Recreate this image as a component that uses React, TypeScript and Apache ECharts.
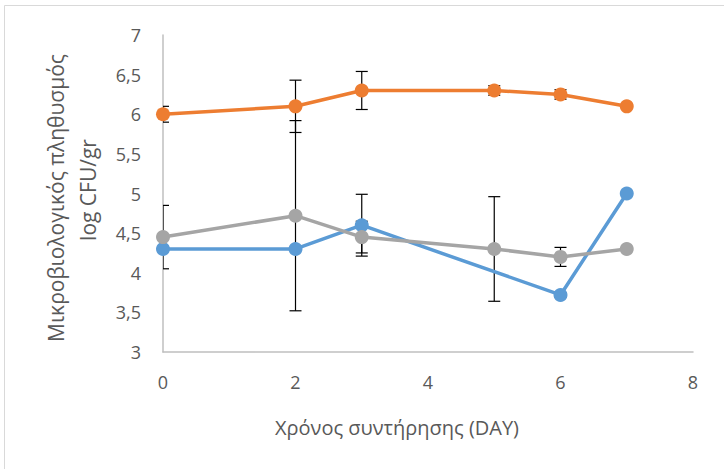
import React, { useEffect, useRef } from "react";
import * as echarts from "echarts";

const days = [0, 2, 3, 5, 6, 7];
const blueValues: (number | null)[] = [4.3, 4.3, 4.6, null, 3.72, 5.0];
const orangeValues: (number | null)[] = [6.0, 6.1, 6.3, 6.3, 6.25, 6.1];
const greyValues: (number | null)[] = [4.45, 4.72, 4.45, 4.3, 4.2, 4.3];
const blueErrors: (number | null)[] = [0, 0, 0.39, null, 0.03, 0];
const orangeErrors: (number | null)[] = [0.1, 0.33, 0.24, 0.06, 0.06, 0];
const greyErrors: (number | null)[] = [0.4, 1.2, 0.2, 0.66, 0.12, 0];
const xTicks = [0, 2, 4, 6, 8];
const yTicks = [3, 3.5, 4, 4.5, 5, 5.5, 6, 6.5, 7];

const xTitle = "Χρόνος συντήρησης (DAY)";
const yTitle1 = "Μικροβιολογικός πληθυσμός";
const yTitle2 = "log CFU/gr";

const FONT = "'Open Sans', 'Noto Sans', sans-serif";
const TEXT_COLOR = "#595959";

function pts(values: (number | null)[]) {
  return days.map((d, i) => [d, values[i]]).filter((p) => p[1] !== null);
}

function errData(values: (number | null)[], errs: (number | null)[]) {
  const out: number[][] = [];
  days.forEach((d, i) => {
    const v = values[i];
    const e = errs[i];
    if (v !== null && e !== null && e > 0) out.push([d, v - e, v + e]);
  });
  return out;
}

function errorSeries(values: (number | null)[], errs: (number | null)[]) {
  return {
    type: "custom",
    z: 1,
    clip: true,
    silent: true,
    data: errData(values, errs),
    renderItem: (params: any, api: any) => {
      const x = api.value(0);
      const lo = api.coord([x, api.value(1)]);
      const hi = api.coord([x, api.value(2)]);
      const half = 6;
      const style = { stroke: "#000000", lineWidth: 1.2 };
      return {
        type: "group",
        children: [
          { type: "line", shape: { x1: lo[0], y1: lo[1], x2: hi[0], y2: hi[1] }, style },
          { type: "line", shape: { x1: lo[0] - half, y1: lo[1], x2: lo[0] + half, y2: lo[1] }, style },
          { type: "line", shape: { x1: hi[0] - half, y1: hi[1], x2: hi[0] + half, y2: hi[1] }, style },
        ],
      };
    },
  };
}

function lineSeries(name: string, values: (number | null)[], color: string) {
  return {
    name,
    type: "line",
    z: 3,
    data: pts(values),
    connectNulls: true,
    symbol: "circle",
    symbolSize: 14,
    lineStyle: { color, width: 3.5 },
    itemStyle: { color },
  };
}

export default function App() {
  const ref = useRef<HTMLDivElement>(null);
  useEffect(() => {
    if (!ref.current) return;
    const chart = echarts.init(ref.current, undefined, { renderer: "svg" });
    chart.setOption({
      animation: false,
      backgroundColor: "#ffffff",
      grid: { left: 163, top: 35, right: 31, bottom: 117 },
      xAxis: {
        type: "value",
        min: xTicks[0],
        max: xTicks[xTicks.length - 1],
        interval: 2,
        axisLine: { show: true, lineStyle: { color: "#bfbfbf", width: 1.5 } },
        axisTick: { show: false },
        splitLine: { show: false },
        axisLabel: { color: TEXT_COLOR, fontSize: 18, fontFamily: FONT, margin: 21 },
      },
      yAxis: {
        type: "value",
        min: yTicks[0],
        max: yTicks[yTicks.length - 1],
        interval: 0.5,
        axisLine: { show: true, lineStyle: { color: "#bfbfbf", width: 1.5 } },
        axisTick: { show: false },
        splitLine: { show: false },
        axisLabel: {
          color: TEXT_COLOR,
          fontSize: 18,
          fontFamily: FONT,
          margin: 22,
          formatter: (v: number) => String(v).replace(".", ","),
        },
      },
      graphic: [
        {
          type: "rect",
          shape: { x: 4.5, y: 5.5, width: 900, height: 700 },
          style: { fill: "none", stroke: "#d9d9d9", lineWidth: 1 },
          silent: true,
        },
        {
          type: "text",
          x: 397,
          y: 427,
          style: {
            text: xTitle,
            fill: TEXT_COLOR,
            font: `20px ${FONT}`,
            textAlign: "center",
            textVerticalAlign: "middle",
          },
        },
        {
          type: "text",
          x: 56,
          y: 198,
          rotation: Math.PI / 2,
          style: {
            text: yTitle1,
            fill: TEXT_COLOR,
            font: `21px ${FONT}`,
            textAlign: "center",
            textVerticalAlign: "middle",
          },
        },
        {
          type: "text",
          x: 88,
          y: 190,
          rotation: Math.PI / 2,
          style: {
            text: yTitle2,
            fill: TEXT_COLOR,
            font: `21px ${FONT}`,
            textAlign: "center",
            textVerticalAlign: "middle",
          },
        },
      ],
      series: [
        errorSeries(blueValues, blueErrors),
        errorSeries(orangeValues, orangeErrors),
        errorSeries(greyValues, greyErrors),
        lineSeries("Σειρά 1", blueValues, "#5B9BD5"),
        lineSeries("Σειρά 2", orangeValues, "#ED7D31"),
        lineSeries("Σειρά 3", greyValues, "#A5A5A5"),
      ],
    });
    return () => chart.dispose();
  }, []);
  return (
    <div
      ref={ref}
      style={{ position: "fixed", left: 0, top: 0, width: 724, height: 469 }}
    />
  );
}
